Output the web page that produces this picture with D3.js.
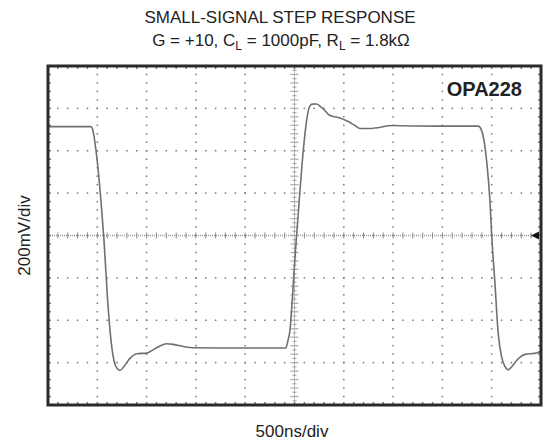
<!DOCTYPE html>
<html>
<head>
<meta charset="utf-8">
<script src="https://cdn.jsdelivr.net/npm/d3@7"></script>
<style>
  body { margin: 0; background: #fff; }
  text { font-family: "Liberation Sans", Arial, sans-serif; fill: #222; }
</style>
</head>
<body>
<svg width="550" height="446"></svg>
<script>
// trace, time in ns (500ns/div) and level in mV (200mV/div)
var timeNs = [0, 436, 456, 487, 545, 568, 605, 639, 669, 700, 730, 771, 831, 899, 1001, 1085, 1156, 1204, 1271, 1372, 1473, 1744, 2413,
  2434, 2454, 2477, 2510, 2548, 2589, 2616, 2650, 2677, 2725, 2758, 2792, 2860, 2961, 3045, 3113, 3164, 3265, 3501, 3701, 3975, 4363,
  4398, 4448, 4482, 4499, 4533, 4566, 4601, 4634, 4668, 4706, 4753, 4838, 4956, 5000];
var levelMv = [514, 514, 495, 401, 118, -24, -307, -495, -590, -627, -637, -618, -580, -558, -555, -534, -517, -511, -514, -524, -530, -531, -531,
  -495, -448, -307, -71, 165, 401, 519, 605, 620, 621, 611, 598, 566, 555, 538, 519, 505, 505, 519, 517, 516, 516,
  495, 354, 165, 9, -226, -462, -574, -618, -634, -618, -590, -561, -555, -545];

var xDivs = d3.range(0, 5001, 500),   // 10 divisions
    yDivs = d3.range(-800, 801, 200);  // 8 divisions
var labels = {
  title: "SMALL-SIGNAL STEP RESPONSE",
  x: "500ns/div",
  y: "200mV/div",
  part: "OPA228"
};

var svg = d3.select("svg"),
    margin = {top: 66, right: 9, bottom: 41, left: 48},
    width = +svg.attr("width") - (margin.left + margin.right),
    height = +svg.attr("height") - (margin.top + margin.bottom);

var x = d3.scaleLinear().domain([0, 5000]).range([margin.left, margin.left + width]),
    y = d3.scaleLinear().domain([-800, 800]).range([margin.top + height, margin.top]);

var grid = svg.append("g").attr("class", "grid");

// minor positions: 5 per division
var xMinor = d3.range(0, 5001, 100),
    yMinor = d3.range(-800, 801, 40);

// dotted major grid lines
xDivs.slice(1, -1).filter(function(d) { return d !== 2500; }).forEach(function(xv) {
  grid.selectAll(null)
    .data(yMinor)
    .enter().append("rect")
    .attr("x", x(xv) - 0.75)
    .attr("y", function(d) { return y(d) - 0.75; })
    .attr("width", 1.5)
    .attr("height", 1.5)
    .attr("fill", "#777");
});
yDivs.slice(1, -1).filter(function(d) { return d !== 0; }).forEach(function(yv) {
  grid.selectAll(null)
    .data(xMinor)
    .enter().append("rect")
    .attr("x", function(d) { return x(d) - 0.75; })
    .attr("y", y(yv) - 0.75)
    .attr("width", 1.5)
    .attr("height", 1.5)
    .attr("fill", "#777");
});

// centre lines with ticks
grid.append("line")
  .attr("x1", x(0)).attr("x2", x(5000))
  .attr("y1", y(0)).attr("y2", y(0))
  .attr("stroke", "#999")
  .attr("stroke-width", 1.5)
  .attr("stroke-dasharray", "1,1");
grid.selectAll(".hticks")
  .data(xMinor)
  .enter().append("line")
  .attr("x1", function(d) { return x(d); })
  .attr("x2", function(d) { return x(d); })
  .attr("y1", y(0) - 3)
  .attr("y2", y(0) + 3)
  .attr("stroke", "#888")
  .attr("stroke-width", 1);
grid.append("line")
  .attr("x1", x(2500)).attr("x2", x(2500))
  .attr("y1", y(-800)).attr("y2", y(800))
  .attr("stroke", "#bbb")
  .attr("stroke-width", 1);
grid.selectAll(".vticks")
  .data(d3.range(-800, 801, 20))
  .enter().append("line")
  .attr("x1", function(d, i) { return x(2500) - (i % 2 ? 2 : 4); })
  .attr("x2", function(d, i) { return x(2500) + (i % 2 ? 2 : 4); })
  .attr("y1", function(d) { return y(d); })
  .attr("y2", function(d) { return y(d); })
  .attr("stroke", "#aaa")
  .attr("stroke-width", 1.2);

// inward ticks along the frame
grid.selectAll(".ftop")
  .data(xMinor)
  .enter().append("rect")
  .attr("x", function(d) { return x(d) - 0.75; })
  .attr("y", y(800))
  .attr("width", 1.5).attr("height", 3)
  .attr("fill", "#777");
grid.selectAll(".fbot")
  .data(xMinor)
  .enter().append("rect")
  .attr("x", function(d) { return x(d) - 0.75; })
  .attr("y", y(-800) - 3)
  .attr("width", 1.5).attr("height", 3)
  .attr("fill", "#777");
grid.selectAll(".fleft")
  .data(yMinor)
  .enter().append("rect")
  .attr("x", x(0))
  .attr("y", function(d) { return y(d) - 0.75; })
  .attr("width", 3).attr("height", 1.5)
  .attr("fill", "#777");
grid.selectAll(".fright")
  .data(yMinor)
  .enter().append("rect")
  .attr("x", x(5000) - 3)
  .attr("y", function(d) { return y(d) - 0.75; })
  .attr("width", 3).attr("height", 1.5)
  .attr("fill", "#777");

// trace
var trace = timeNs.map(function(t, i) { return [t, levelMv[i]]; });
svg.append("path")
  .datum(trace)
  .attr("fill", "none")
  .attr("stroke", "#707070")
  .attr("stroke-width", 1.6)
  .attr("stroke-linejoin", "round")
  .attr("d", d3.line()
    .x(function(d) { return x(d[0]); })
    .y(function(d) { return y(d[1]); })
    .curve(d3.curveMonotoneX));

// frame
svg.append("rect")
  .attr("x", x(0))
  .attr("y", y(800))
  .attr("width", x(5000) - x(0))
  .attr("height", y(-800) - y(800))
  .attr("fill", "none")
  .attr("stroke", "#2a2a2a")
  .attr("stroke-width", 3);

// trigger level marker
var ax = x(5000) - 2, ay = y(0);
svg.append("path")
  .attr("d", "M" + (ax - 8) + "," + ay + "L" + ax + "," + (ay - 4) + "L" + ax + "," + (ay + 4) + "Z")
  .attr("fill", "#111");

// texts
svg.append("text")
  .attr("x", 280).attr("y", 23)
  .attr("text-anchor", "middle")
  .style("font-size", "17px")
  .text(labels.title);

var sub = svg.append("text")
  .attr("x", 281).attr("y", 46)
  .attr("text-anchor", "middle")
  .style("font-size", "17px");
sub.append("tspan").text("G = +10, C");
sub.append("tspan").attr("dy", 4).style("font-size", "12px").text("L");
sub.append("tspan").attr("dy", -4).text(" = 1000pF, R");
sub.append("tspan").attr("dy", 4).style("font-size", "12px").text("L");
sub.append("tspan").attr("dy", -4).text(" = 1.8k\u03A9");

svg.append("text")
  .attr("x", 522).attr("y", 96)
  .attr("text-anchor", "end")
  .style("font-size", "20px")
  .style("font-weight", "bold")
  .text(labels.part);

svg.append("text")
  .attr("x", 292).attr("y", 437)
  .attr("text-anchor", "middle")
  .style("font-size", "17px")
  .text(labels.x);

svg.append("text")
  .attr("transform", "translate(30," + y(0) + ") rotate(-90)")
  .attr("text-anchor", "middle")
  .style("font-size", "17px")
  .text(labels.y);
</script>
</body>
</html>
